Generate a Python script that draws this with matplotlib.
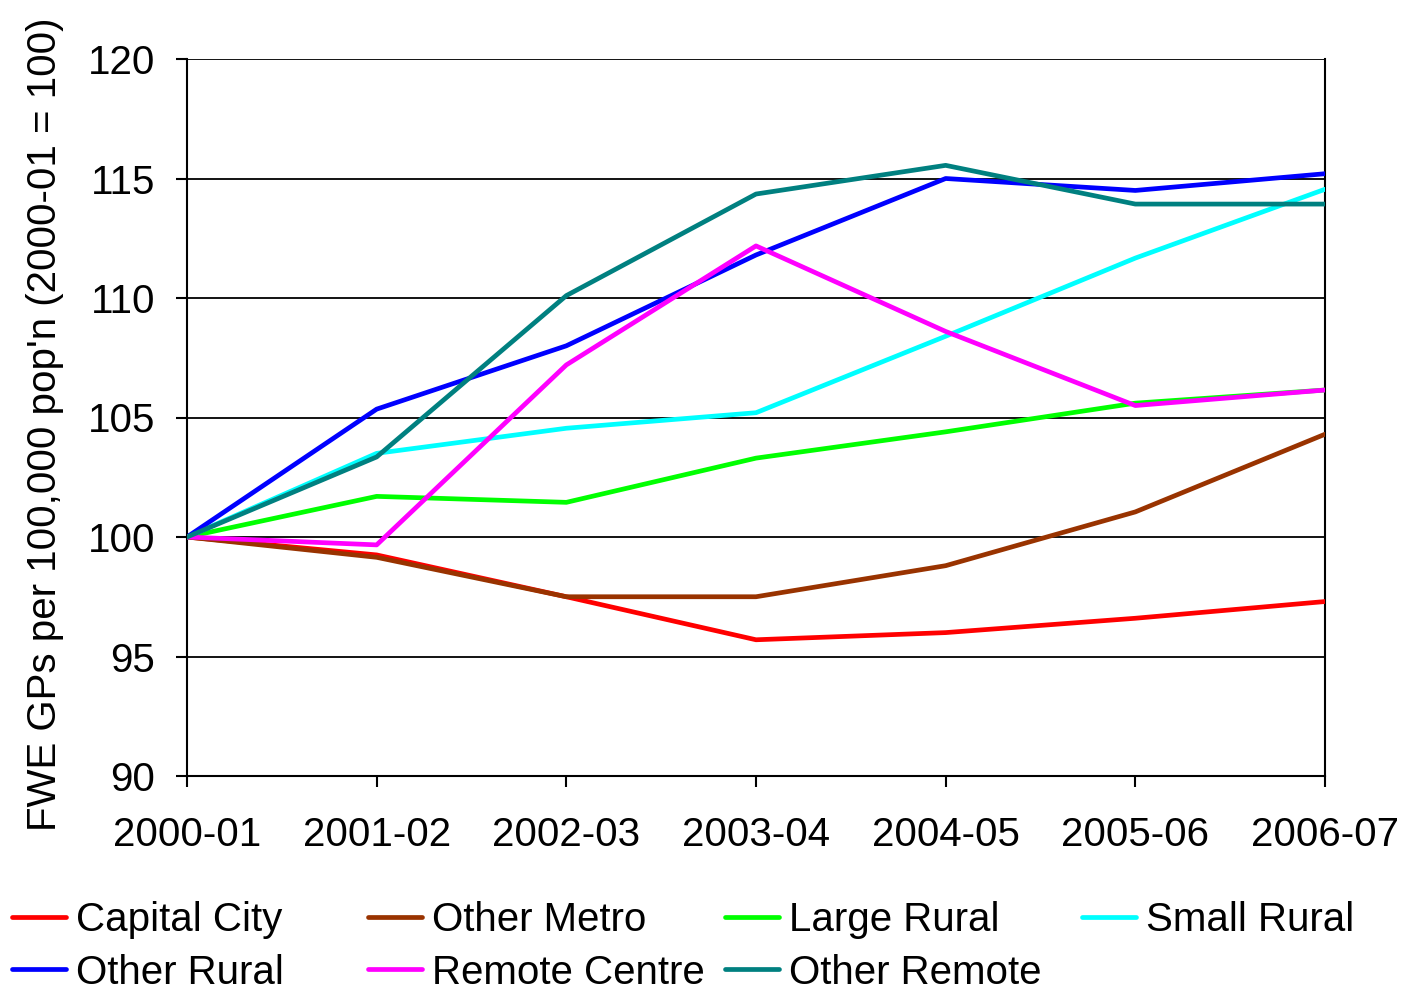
import matplotlib
matplotlib.use("Agg")
import matplotlib.pyplot as plt

years = ["2000-01", "2001-02", "2002-03", "2003-04", "2004-05", "2005-06", "2006-07"]
capital_city = [100, 99.25, 97.5, 95.7, 96.0, 96.6, 97.3]
other_metro = [100, 99.15, 97.5, 97.5, 98.8, 101.05, 104.3]
large_rural = [100, 101.7, 101.45, 103.3, 104.4, 105.6, 106.15]
small_rural = [100, 103.5, 104.55, 105.2, 108.4, 111.67, 114.55]
other_rural = [100, 105.35, 108.0, 111.8, 115.0, 114.5, 115.2]
remote_centre = [100, 99.67, 107.2, 112.18, 108.6, 105.5, 106.15]
other_remote = [100, 103.35, 110.1, 114.35, 115.55, 113.93, 113.93]

series = [
    ("Capital City", capital_city, "#ff0000"),
    ("Other Metro", other_metro, "#993300"),
    ("Large Rural", large_rural, "#00ff00"),
    ("Small Rural", small_rural, "#00ffff"),
    ("Other Rural", other_rural, "#0000ff"),
    ("Remote Centre", remote_centre, "#ff00ff"),
    ("Other Remote", other_remote, "#008080"),
]

plt.rcParams['font.family'] = ['Liberation Sans', 'DejaVu Sans']

W, H = 1407, 994
fig = plt.figure(figsize=(W / 100, H / 100), dpi=100)
ax = fig.add_axes([187 / W, 1 - 776 / H, (1325 - 187) / W, (776 - 59) / H])

x = list(range(len(years)))
handles = []
for name, vals, col in series:
    h, = ax.plot(x, vals, color=col, lw=3.4, label=name, solid_capstyle='round', zorder=3)
    handles.append(h)

ax.set_xlim(0, len(years) - 1)
ax.set_ylim(90, 120)
ax.set_yticks([90, 95, 100, 105, 110, 115, 120])
ax.set_xticks(x)
ax.set_xticklabels(years)
ax.yaxis.grid(True, color='black', lw=1.3)
ax.set_axisbelow(True)
for s in ['left', 'bottom', 'right']:
    ax.spines[s].set_linewidth(1.5)
    ax.spines[s].set_color('black')
ax.spines['top'].set_visible(False)
ax.tick_params(axis='both', labelsize=29, length=8, width=1.5, direction='out')
ax.tick_params(axis='x', pad=21)
ax.tick_params(axis='y', pad=15)
ax.set_ylabel("FWE GPs per 100,000 pop'n (2000-01 = 100)", fontsize=29)
ax.yaxis.set_label_coords(-0.108, 0.49)

# legend: 4 fixed columns, filled row-major
col_x = [12, 368, 725, 1082]
for c in range(4):
    idx = [i for i in (c, c + 4) if i < len(handles)]
    fig.legend([handles[i] for i in idx], [series[i][0] for i in idx],
               loc='upper left', bbox_to_anchor=(col_x[c] / W, 1 - 901 / H),
               ncol=1, frameon=False, fontsize=29, handlelength=1.35,
               handletextpad=0.25, labelspacing=0.36, borderpad=0.0,
               borderaxespad=0.0)

fig.savefig("out.png", dpi=100)
